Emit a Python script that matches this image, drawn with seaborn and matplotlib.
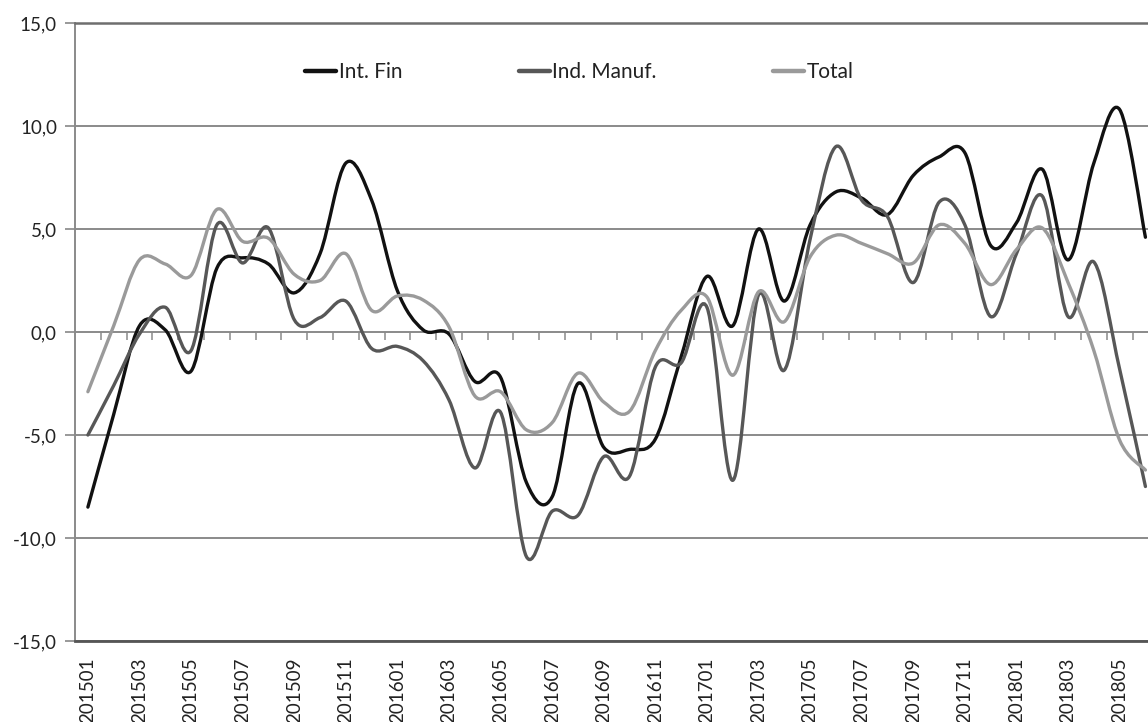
import numpy as np
import pandas as pd
import matplotlib
matplotlib.use("Agg")
import matplotlib.pyplot as plt
import seaborn as sns
from matplotlib.patheffects import AbstractPathEffect
from matplotlib.path import Path
from matplotlib.transforms import IdentityTransform
from matplotlib.ticker import FuncFormatter

# -----------------------------
# DATA
# -----------------------------
meses = [f"{a}{m:02d}" for a in (2015, 2016, 2017, 2018) for m in range(1, 13)][:42]

int_fin = [-8.5, -4.0, 0.3, 0.1, -1.9, 3.1, 3.6, 3.3, 1.9, 3.8,
           8.2, 6.4, 2.0, 0.1, -0.1, -2.4, -2.2, -7.3, -8.0, -2.5,
           -5.6, -5.7, -5.2, -1.2, 2.7, 0.3, 5.0, 1.5, 5.2, 6.8,
           6.5, 5.7, 7.6, 8.5, 8.7, 4.2, 5.3, 7.9, 3.5, 8.2,
           10.8, 4.6]

ind_manuf = [-5.0, -2.6, -0.1, 1.2, -0.9, 5.2, 3.35, 5.05, 0.6, 0.7,
             1.5, -0.8, -0.7, -1.4, -3.3, -6.6, -3.9, -10.9, -8.7, -8.9,
             -6.05, -7.0, -1.7, -1.5, 1.2, -7.2, 1.8, -1.85, 4.5, 9.0,
             6.4, 5.6, 2.4, 6.3, 5.2, 0.75, 3.8, 6.6, 0.75, 3.4,
             -1.8, -7.5]

total = [-2.9, 0.3, 3.5, 3.3, 2.75, 5.95, 4.4, 4.55, 2.8, 2.5,
         3.8, 1.05, 1.75, 1.55, 0.25, -3.1, -2.9, -4.75, -4.4, -2.0,
         -3.4, -3.85, -0.9, 1.05, 1.7, -2.1, 1.95, 0.5, 3.65, 4.7,
         4.3, 3.8, 3.35, 5.2, 4.3, 2.3, 4.0, 5.05, 2.4, -0.9,
         -5.25, -6.7]

series = ["Int. Fin", "Ind. Manuf.", "Total"]
colores = ["#111111", "#575757", "#9a9a9a"]

df = pd.DataFrame({
    "pos": np.tile(np.arange(len(meses)), 3),
    "valor": int_fin + ind_manuf + total,
    "serie": np.repeat(series, len(meses)),
})


# smoothed rendering of the line (like Excel "smoothed line")
class SmoothLine(AbstractPathEffect):
    def draw_path(self, renderer, gc, tpath, affine, rgbFace=None):
        pts = affine.transform(tpath.vertices)
        n = len(pts)
        if n < 3:
            renderer.draw_path(gc, tpath, affine, rgbFace)
            return
        verts = [pts[0]]
        codes = [Path.MOVETO]
        for i in range(n - 1):
            p0 = pts[max(i - 1, 0)]
            p1 = pts[i]
            p2 = pts[i + 1]
            p3 = pts[min(i + 2, n - 1)]
            verts += [p1 + (p2 - p0) / 6, p2 - (p3 - p1) / 6, p2]
            codes += [Path.CURVE4] * 3
        renderer.draw_path(gc, Path(np.array(verts), codes), IdentityTransform(), rgbFace)


# -----------------------------
# PLOT
# -----------------------------
sns.set_theme(style="white")
plt.rcParams['font.family'] = ['Lato', 'DejaVu Sans']

fig = plt.figure(figsize=(11.48, 7.22), dpi=100)
ax = fig.add_axes([75 / 1148, 1 - 641 / 722, 1 - 75 / 1148, (641 - 23) / 722])

sns.lineplot(data=df, x="pos", y="valor", hue="serie", hue_order=series,
             palette=colores, linewidth=2.4, legend=False, ax=ax)

for ln in ax.get_lines():
    ln.set_path_effects([SmoothLine()])
    ln.set_solid_joinstyle("round")

ax.set_xlim(-0.5, 41.1)
ax.set_ylim(-15, 15)
ax.set_yticks(np.arange(-15, 16, 5))
ax.yaxis.set_major_formatter(FuncFormatter(lambda v, p: f"{v:.1f}".replace(".", ",")))
ax.set_xticks(np.arange(0, len(meses), 2))
ax.set_xticklabels(meses[::2], rotation=90)
ax.set_xlabel("")
ax.set_ylabel("")

ax.yaxis.grid(True, color="#8a8a8a", linewidth=1.4)
ax.set_axisbelow(True)
ax.tick_params(axis="y", direction="out", length=7, width=1.2, color="#888888",
               labelsize=13.5, labelcolor="#222222", pad=6, left=True)
ax.tick_params(axis="x", length=0, labelsize=13.5, labelcolor="#222222", pad=12)

ax.spines["right"].set_visible(False)
ax.spines["top"].set_color("#6e6e6e")
ax.spines["top"].set_linewidth(1.8)
ax.spines["left"].set_color("#8a8a8a")
ax.spines["left"].set_linewidth(1.4)
ax.spines["bottom"].set_color("#555555")
ax.spines["bottom"].set_linewidth(2.0)

# category tick marks on the zero line
sec = ax.secondary_xaxis(0, transform=ax.transData)
sec.set_xticks(np.arange(0.5, len(meses) - 1, 1))
sec.tick_params(direction="out", length=6, width=1.1, color="#8a8a8a", labelbottom=False)
sec.spines["bottom"].set_visible(False)

handles = [plt.Line2D([], [], color=c, linewidth=3.2) for c in colores]
ax.legend(handles, series, loc="center", bbox_to_anchor=(0.47, 0.921), ncol=3,
          frameon=False, fontsize=15, handlelength=1.5, handletextpad=0.1,
          columnspacing=5.6, labelcolor="#222222")

fig.savefig("out.png", dpi=100)
